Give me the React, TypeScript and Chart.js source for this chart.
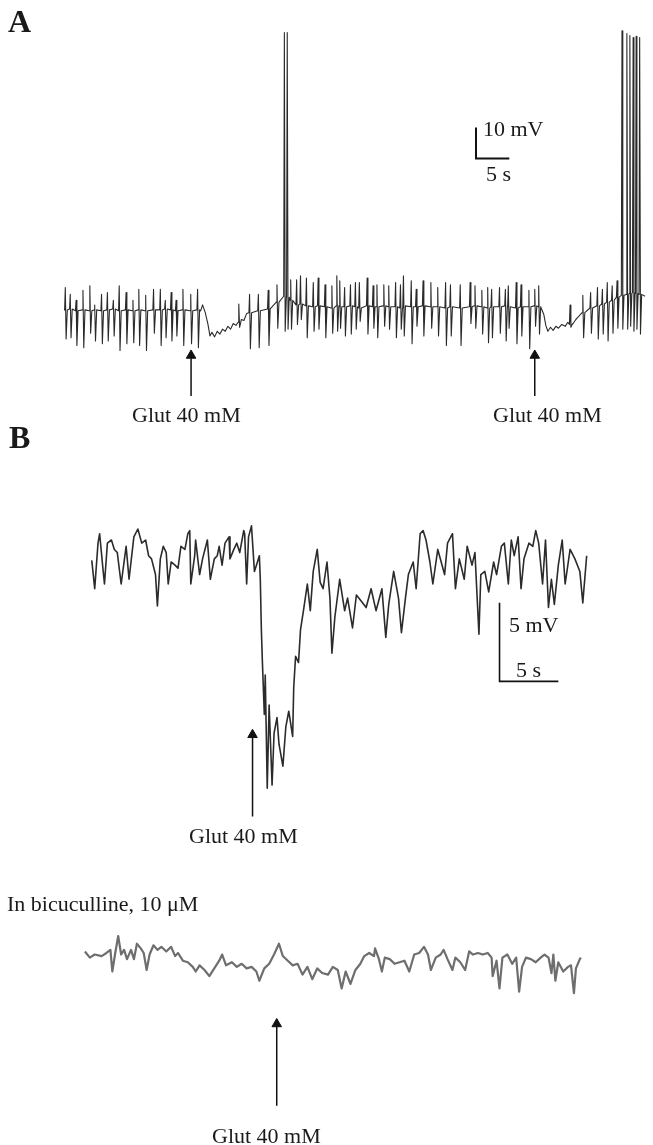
import React, { useEffect, useRef } from "react";
import { Chart, registerables } from "chart.js";

Chart.register(...registerables);

// ---------------- Panel A (time in s, membrane potential in mV) ----------------
const aSpikeTime = [
  0, 0.74, 1.62, 2.65, 3.68, 4.41, 5.44, 6.32, 7.21, 8.09, 9.12, 10.15, 11.03, 12.06, 13.24, 14.26, 15.0, 15.88, 16.62, 17.65, 18.82, 19.85,
  26.03, 27.65, 28.97, 30.44, 31.76, 32.87, 33.3, 33.82, 34.71, 35.29, 36.18, 37.21, 37.94, 38.97, 40.0, 40.74, 41.18, 41.91, 42.79, 43.53, 44.12,
  45.29, 46.18, 46.76, 47.79, 48.53, 49.56, 50.29, 50.74, 51.91, 52.65, 53.68, 54.85, 55.88, 57.06,
  57.79, 59.26, 60.74, 61.47, 62.5, 63.38, 63.97, 65.15, 66.03, 66.47, 67.65, 68.38, 69.56, 70.44, 71.03,
  75.74, 77.65, 78.82, 79.85, 80.59, 81.32, 82.06, 82.79, 83.53, 84.26, 84.71, 85.2, 85.65, 86.18,
];
const aSpikeUp = [
  -52.2, -54.4, -56.3, -53.1, -51.6, -57.8, -54.4, -53.8, -56.3, -51.6, -53.8, -56.3, -52.8, -54.7, -52.8, -52.8, -56.3, -53.8, -56.3, -52.8, -54.4, -52.8,
  -57.5, -54.4, -54.4, -53.1, -51.3, 30.0, 30.0, -49.7, -49.7, -48.4, -49.1, -50.6, -49.1, -51.3, -51.6, -48.4, -50.0, -52.2, -51.3, -50.6, -50.6,
  -49.1, -51.6, -51.3, -51.3, -51.6, -50.6, -51.3, -48.4, -50.0, -52.8, -50.0, -50.6, -52.2, -50.6,
  -51.3, -51.3, -50.6, -51.6, -53.1, -52.2, -52.8, -52.2, -52.8, -51.6, -50.6, -51.3, -53.1, -52.8, -51.6,
  -57.8, -54.7, -53.8, -52.2, -52.8, -50.6, -51.6, -50.0, 30.6, 29.7, 29.1, 28.4, 28.8, 28.4,
];
const aSpikeDown = [
  -68.8, -68.4, -70.9, -71.6, -66.9, -69.4, -70.3, -69.4, -67.8, -72.5, -70.3, -70.0, -70.9, -72.5, -66.9, -70.9, -68.4, -69.4, -67.8, -70.9, -70.3, -71.6,
  -65.0, -71.9, -71.6, -70.9, -65.3, -66.3, -65.6, -65.6, -64.1, -62.5, -68.4, -66.3, -65.6, -68.4, -66.9, -66.3, -65.3, -67.8, -67.2, -65.6, -63.1,
  -67.2, -65.3, -68.4, -64.7, -65.6, -68.4, -65.6, -67.8, -70.3, -64.7, -67.8, -65.3, -67.8, -70.9,
  -67.8, -70.9, -63.8, -65.3, -67.2, -70.0, -68.4, -66.9, -69.4, -65.3, -70.3, -67.8, -71.9, -64.7, -67.2,
  -65.0, -68.4, -66.9, -68.8, -67.2, -69.4, -66.9, -65.3, -65.6, -65.6, -64.7, -66.3, -65.6, -67.2,
];
const aSpikeBase = [
  -59.4, -59.1, -59.7, -59.4, -59.7, -59.4, -59.7, -59.4, -59.1, -59.7, -59.4, -59.7, -59.4, -59.7, -59.4, -59.4, -59.1, -59.4, -59.7, -59.4, -59.7, -59.4,
  -63.4, -60.3, -59.7, -59.1, -56.9, -55.0, -55.3, -56.3, -57.8, -57.5, -58.1, -58.4, -58.1, -58.4, -58.8, -58.1, -58.4, -58.4, -58.1, -58.4, -58.8,
  -58.1, -58.4, -58.4, -58.1, -58.4, -58.4, -58.8, -58.1, -58.4, -58.4, -58.1, -58.4, -58.4, -58.8,
  -58.4, -58.8, -58.4, -58.1, -58.4, -58.8, -58.4, -58.4, -58.1, -58.4, -58.8, -58.4, -58.4, -58.1, -58.4,
  -64.1, -60.3, -58.8, -58.1, -57.5, -56.9, -56.3, -55.3, -54.7, -54.4, -54.1, -53.8, -54.1, -54.4,
];
// slow membrane potential between spikes (glutamate-induced dips)
const aBaseTime = [
  -0.2, 20.3, 20.6, 21.0, 21.4, 21.7, 22.0, 22.4, 22.8, 23.2, 23.6, 24.0, 24.4, 24.8, 25.2, 25.6, 26.4, 26.8, 27.2,
  71.4, 71.8, 72.1, 72.4, 72.8, 73.2, 73.6, 74.0, 74.5, 75.0, 75.4, 76.2, 76.6, 77.0, 87.0,
];
const aBaseVolt = [
  -59.4, -59.7, -57.8, -60.3, -64.0, -67.8, -66.6, -68.1, -66.3, -67.2, -65.6, -66.3, -64.7, -65.6, -63.8, -64.4, -62.5, -62.8, -60.6,
  -58.8, -60.9, -64.4, -66.3, -65.0, -66.0, -64.7, -65.3, -64.1, -64.7, -63.4, -63.8, -62.5, -61.6, -55.0,
];
const aGlutTimes = [18.87, 70.44];
const aArrowHead = -74.1;
const aArrowTail = -87.2;
const aScaleBar = { t: 61.62, v: -10.6, mV: 10, s: 5 };

// ---------------- Panel B, control trace ----------------
const b1Time = [
  0, 0.25, 0.53, 0.67, 0.92, 1.08, 1.33, 1.67, 1.92, 2.17, 2.5, 2.92, 3.17, 3.58, 3.92, 4.25, 4.58, 4.83, 5.08, 5.42,
  5.58, 5.83, 6.08, 6.33, 6.5, 6.75, 7.08, 7.33, 7.58, 7.92, 8.17, 8.33, 8.42, 8.75, 8.83, 9.17, 9.42, 9.83, 10.08, 10.42,
  10.67, 10.83, 11.08, 11.33, 11.67, 11.75, 12.08, 12.33, 12.58, 12.92, 13.0, 13.17, 13.33, 13.58, 13.83, 14.0, 14.25, 14.33, 14.42, 14.5,
  14.67, 14.75, 14.92, 15.08, 15.33, 15.5, 15.75, 15.92, 16.25, 16.5, 16.75, 17.08, 17.17, 17.33, 17.58, 17.75, 18.0, 18.33, 18.58, 18.83,
  19.17, 19.42, 19.67, 20.0, 20.25, 20.42, 20.67, 21.08, 21.5, 21.75, 22.17, 22.5, 22.92, 23.33, 23.75, 24.17, 24.67, 25.0, 25.25, 25.67,
  26.08, 26.33, 26.67, 26.92, 27.33, 27.58, 27.92, 28.17, 28.42, 28.75, 29.0, 29.42, 30.0, 30.25, 30.67, 30.92, 31.25, 31.67, 31.92, 32.33,
  32.58, 32.92, 33.08, 33.42, 33.75, 34.17, 34.42, 34.83, 35.08, 35.42, 35.67, 35.92, 36.25, 36.5, 36.75, 37.17, 37.5, 37.75, 38.0, 38.33,
  38.58, 38.83, 39.08, 39.33, 39.67, 40.0, 40.25, 40.67, 41.08, 41.5, 41.75, 42.08,
];
const b1Volt = [
  -50.5, -52.3, -49.4, -48.8, -50.8, -52.0, -49.4, -49.2, -49.8, -50.0, -52.0, -49.6, -51.7, -49.0, -48.5, -49.4, -49.2, -50.2, -50.4, -51.4,
  -53.4, -50.4, -49.6, -50.0, -52.0, -50.6, -50.8, -51.0, -49.6, -49.8, -48.8, -48.6, -52.0, -50.2, -49.2, -51.4, -50.4, -49.2, -51.7, -50.4,
  -50.2, -49.6, -50.8, -49.4, -49.0, -50.4, -49.8, -49.4, -50.0, -48.6, -48.8, -52.0, -49.0, -48.3, -51.2, -50.8, -50.2, -51.7, -54.9, -56.8,
  -60.3, -57.8, -65.0, -59.7, -64.8, -61.5, -60.5, -62.2, -63.6, -61.1, -60.1, -61.7, -58.6, -56.6, -57.0, -54.9, -53.7, -52.0, -53.7, -51.2,
  -49.8, -51.9, -52.3, -50.6, -52.9, -56.4, -54.1, -51.7, -53.7, -52.9, -54.8, -52.7, -53.1, -53.5, -52.3, -53.7, -52.3, -55.4, -53.3, -51.2,
  -52.9, -55.1, -52.9, -51.4, -50.6, -52.3, -48.8, -48.6, -49.2, -50.6, -52.0, -49.8, -51.4, -49.4, -48.8, -52.3, -50.4, -51.7, -49.6, -50.8,
  -50.0, -55.2, -51.4, -51.2, -52.5, -50.6, -51.4, -49.6, -49.4, -52.0, -49.2, -50.2, -49.0, -52.3, -50.4, -49.4, -49.6, -48.6, -49.4, -52.0,
  -49.2, -53.5, -51.7, -53.3, -50.8, -49.2, -52.0, -49.8, -50.4, -51.2, -53.2, -50.2,
];
const b1GlutTime = 13.67;
const b1ArrowHead = -61.6;
const b1ArrowTail = -66.8;
const bScaleBar = { t: 34.67, v: -58.2, mV: 5, s: 5 };

// ---------------- Panel B, in bicuculline ----------------
const b2Time = [
  0, 0.42, 0.83, 1.42, 1.83, 2.17, 2.33, 2.58, 2.83, 3.08, 3.33, 3.58, 3.92, 4.17, 4.42, 4.75, 5.0, 5.25, 5.5, 5.83,
  6.17, 6.5, 6.92, 7.33, 7.67, 7.92, 8.33, 8.75, 9.17, 9.42, 9.75, 10.17, 10.58, 11.0, 11.42, 11.67, 12.0, 12.5, 12.92, 13.33,
  13.75, 14.17, 14.58, 14.83, 15.25, 15.67, 16.08, 16.5, 16.83, 17.25, 17.67, 18.08, 18.5, 18.92, 19.33, 19.75, 20.17, 20.67, 21.08, 21.5,
  21.83, 22.17, 22.58, 23.0, 23.42, 23.75, 24.17, 24.58, 24.67, 25.0, 25.25, 25.5, 25.92, 26.33, 26.75, 27.17, 27.58, 28.0, 28.42, 28.83,
  29.17, 29.42, 29.83, 30.25, 30.5, 30.83, 31.25, 31.5, 31.92, 32.33, 32.67, 33.0, 33.42, 33.83, 34.25, 34.58, 34.67, 35.0, 35.25, 35.5,
  35.92, 36.33, 36.67, 36.92, 37.17, 37.5, 37.92, 38.33, 38.75, 39.08, 39.42, 39.67, 39.83, 40.0, 40.25, 40.67, 41.08, 41.33, 41.58, 41.75,
  42.08, 42.17,
];
const b2Volt = [
  -49.3, -49.7, -49.5, -49.6, -49.4, -49.2, -50.6, -49.4, -48.3, -49.5, -49.2, -49.8, -49.2, -49.8, -48.8, -49.1, -49.4, -50.5, -49.5, -48.9,
  -49.2, -49.0, -49.3, -49.0, -49.6, -49.4, -49.9, -50.0, -50.3, -50.6, -50.2, -50.5, -50.9, -50.4, -49.9, -49.5, -50.2, -50.0, -50.3, -50.1,
  -50.4, -50.3, -50.6, -51.2, -50.4, -50.1, -49.5, -48.8, -49.6, -49.9, -50.2, -50.1, -50.8, -50.3, -51.1, -50.4, -50.7, -50.8, -50.3, -50.5,
  -51.7, -50.6, -51.4, -50.5, -50.1, -49.6, -49.4, -49.6, -49.1, -49.8, -50.6, -49.7, -49.8, -50.1, -50.0, -49.9, -50.6, -49.5, -49.4, -49.0,
  -49.5, -50.5, -49.7, -49.5, -49.2, -49.8, -50.5, -49.7, -50.0, -50.5, -49.3, -49.5, -49.4, -49.5, -49.4, -49.7, -50.9, -49.9, -51.7, -49.7,
  -49.5, -50.1, -49.7, -51.9, -50.3, -49.7, -49.8, -50.0, -49.7, -49.5, -49.7, -50.7, -49.5, -51.2, -50.0, -50.6, -50.3, -50.2, -52.0, -50.4,
  -49.8, -49.7,
];
const b2GlutTime = 16.31;
const b2ArrowHead = -54.0;
const b2ArrowTail = -59.3;

// ---------------- helpers ----------------
type P = { x: number; y: number };

function buildSpikeTrace(): P[] {
  const pts: P[] = aBaseTime.map((t, i) => ({ x: t, y: aBaseVolt[i] }));
  aSpikeTime.forEach((t, i) => {
    pts.push({ x: t - 0.1, y: aSpikeBase[i] });
    pts.push({ x: t, y: aSpikeUp[i] });
    pts.push({ x: t + 0.12, y: aSpikeDown[i] });
    pts.push({ x: t + 0.3, y: aSpikeBase[i] });
  });
  pts.sort((a, b) => a.x - b.x);
  return pts;
}

function traceDs(data: P[], color: string, width: number) {
  return {
    data,
    borderColor: color,
    borderWidth: width,
    pointRadius: 0,
    tension: 0,
    fill: false,
    borderJoinStyle: "round",
  };
}

function arrowDs(t: number, head: number, tail: number) {
  return {
    data: [
      { x: t, y: tail },
      { x: t, y: head },
    ],
    borderColor: "#111",
    borderWidth: 1.5,
    pointRadius: [0, 5.5],
    pointStyle: "triangle",
    pointBackgroundColor: "#111",
    pointBorderColor: "#111",
    pointBorderWidth: 1,
    tension: 0,
    fill: false,
  };
}

function scaleDs(bar: { t: number; v: number; mV: number; s: number }, width: number) {
  return {
    data: [
      { x: bar.t, y: bar.v + bar.mV },
      { x: bar.t, y: bar.v },
      { x: bar.t + bar.s, y: bar.v },
    ],
    borderColor: "#111",
    borderWidth: width,
    pointRadius: 0,
    tension: 0,
    fill: false,
    borderCapStyle: "butt",
    borderJoinStyle: "miter",
  };
}

type TraceProps = {
  top: number;
  height: number;
  xMin: number;
  xMax: number;
  yMin: number;
  yMax: number;
  makeDatasets: () => any[];
};

function TraceCanvas({ top, height, xMin, xMax, yMin, yMax, makeDatasets }: TraceProps) {
  const ref = useRef<HTMLCanvasElement | null>(null);
  useEffect(() => {
    if (!ref.current) return;
    const chart = new Chart(ref.current, {
      type: "line",
      data: { datasets: makeDatasets() },
      options: {
        animation: false,
        responsive: false,
        maintainAspectRatio: false,
        devicePixelRatio: 1,
        events: [],
        layout: { padding: 0 },
        plugins: {
          legend: { display: false },
          tooltip: { enabled: false },
          title: { display: false },
        },
        scales: {
          x: { type: "linear", display: false, min: xMin, max: xMax },
          y: { type: "linear", display: false, min: yMin, max: yMax },
        },
      },
    } as any);
    return () => chart.destroy();
  }, []);
  return (
    <canvas
      ref={ref}
      width={653}
      height={height}
      style={{ position: "absolute", left: 0, top, width: 653, height, display: "block" }}
    />
  );
}

const serif = '"Liberation Serif", "Times New Roman", Times, serif';

function Label({ text, left, top, size = 22, bold = false }: { text: string; left: number; top: number; size?: number; bold?: boolean }) {
  return (
    <div
      style={{
        position: "absolute",
        left,
        top,
        fontFamily: serif,
        fontSize: size,
        lineHeight: `${size}px`,
        fontWeight: bold ? 700 : 400,
        color: "#1a1a1a",
        whiteSpace: "nowrap",
      }}
    >
      {text}
    </div>
  );
}

export default function App() {
  // Panel A: 6.8 px per s, 3.2 px per mV
  const aX0 = -60 / 6.8;
  const aX1 = aX0 + 653 / 6.8;
  const aY1 = -60 + 315 / 3.2;
  const aY0 = aY1 - 420 / 3.2;
  // Panel B: 12 px per s, 16.2 px per mV
  const b1X0 = -87 / 12;
  const b1Y1 = -50 + 130 / 16.2;
  const b2X0 = -80 / 12;
  const b2Y1 = -50 + 90 / 16.2;

  return (
    <div style={{ position: "absolute", left: 0, top: 0, width: 653, height: 1145, background: "#fff", overflow: "hidden" }}>
      <TraceCanvas
        top={0}
        height={420}
        xMin={aX0}
        xMax={aX1}
        yMin={aY0}
        yMax={aY1}
        makeDatasets={() => [
          traceDs(buildSpikeTrace(), "#2a2a2a", 1.1),
          ...aGlutTimes.map((t) => arrowDs(t, aArrowHead, aArrowTail)),
          scaleDs(aScaleBar, 2),
        ]}
      />
      <TraceCanvas
        top={420}
        height={430}
        xMin={b1X0}
        xMax={b1X0 + 653 / 12}
        yMin={b1Y1 - 430 / 16.2}
        yMax={b1Y1}
        makeDatasets={() => [
          traceDs(b1Time.map((t, i) => ({ x: t, y: b1Volt[i] })), "#2b2b2b", 1.6),
          arrowDs(b1GlutTime, b1ArrowHead, b1ArrowTail),
          scaleDs(bScaleBar, 1.6),
        ]}
      />
      <TraceCanvas
        top={870}
        height={275}
        xMin={b2X0}
        xMax={b2X0 + 653 / 12}
        yMin={b2Y1 - 275 / 16.2}
        yMax={b2Y1}
        makeDatasets={() => [
          traceDs(b2Time.map((t, i) => ({ x: t, y: b2Volt[i] })), "#6e6e6e", 2.2),
          arrowDs(b2GlutTime, b2ArrowHead, b2ArrowTail),
        ]}
      />

      <Label text="A" left={8} top={5} size={32} bold />
      <Label text="10 mV" left={483} top={118} />
      <Label text="5 s" left={486} top={163} />
      <Label text="Glut 40 mM" left={132} top={404} />
      <Label text="Glut 40 mM" left={493} top={404} />

      <Label text="B" left={9} top={421} size={32} bold />
      <Label text="5 mV" left={509} top={614} />
      <Label text="5 s" left={516} top={659} />
      <Label text="Glut 40 mM" left={189} top={825} />

      <Label text="In bicuculline, 10 μM" left={7} top={893} />
      <Label text="Glut 40 mM" left={212} top={1125} />
    </div>
  );
}
